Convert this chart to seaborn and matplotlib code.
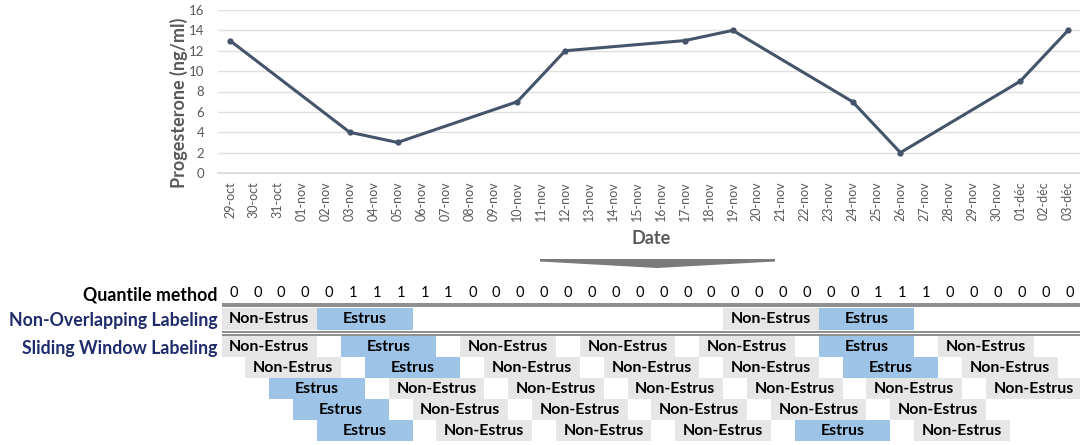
import numpy as np
import pandas as pd
import matplotlib
matplotlib.use("Agg")
import matplotlib.pyplot as plt
import seaborn as sns
from matplotlib.patches import Polygon

# Dates on the x axis
dates = ["29-oct", "30-oct", "31-oct", "01-nov", "02-nov", "03-nov", "04-nov", "05-nov",
         "06-nov", "07-nov", "08-nov", "09-nov", "10-nov", "11-nov", "12-nov", "13-nov",
         "14-nov", "15-nov", "16-nov", "17-nov", "18-nov", "19-nov", "20-nov", "21-nov",
         "22-nov", "23-nov", "24-nov", "25-nov", "26-nov", "27-nov", "28-nov", "29-nov",
         "30-nov", "01-déc", "02-déc", "03-déc"]

# Progesterone measurements
measured_dates = ["29-oct", "03-nov", "05-nov", "10-nov", "12-nov", "17-nov",
                  "19-nov", "24-nov", "26-nov", "01-déc", "03-déc"]
progesterone = [13, 4, 3, 7, 12, 13, 14, 7, 2, 9, 14]

# Quantile method labels (one per date)
quantile = [0, 0, 0, 0, 0, 1, 1, 1, 1, 1,
            0, 0, 0, 0, 0, 0, 0, 0, 0, 0,
            0, 0, 0, 0, 0, 0, 0, 1, 1, 1,
            0, 0, 0, 0, 0, 0]

window = 4

# Non-overlapping windows
non_overlap_start = [0, 4, 21, 25]
non_overlap_label = ["Non-Estrus", "Estrus", "Non-Estrus", "Estrus"]

# Sliding windows (row, start, label)
sliding_row = [0] * 7 + [1] * 7 + [2] * 7 + [3] * 6 + [4] * 6
sliding_start = [0, 5, 10, 15, 20, 25, 30,
                 1, 6, 11, 16, 21, 26, 31,
                 2, 7, 12, 17, 22, 27, 32,
                 3, 8, 13, 18, 23, 28,
                 4, 9, 14, 19, 24, 29]
sliding_label = ["Non-Estrus", "Estrus", "Non-Estrus", "Non-Estrus", "Non-Estrus", "Estrus", "Non-Estrus",
                 "Non-Estrus", "Estrus", "Non-Estrus", "Non-Estrus", "Non-Estrus", "Estrus", "Non-Estrus",
                 "Estrus", "Non-Estrus", "Non-Estrus", "Non-Estrus", "Non-Estrus", "Non-Estrus", "Non-Estrus",
                 "Estrus", "Non-Estrus", "Non-Estrus", "Non-Estrus", "Non-Estrus", "Non-Estrus",
                 "Estrus", "Non-Estrus", "Non-Estrus", "Non-Estrus", "Estrus", "Non-Estrus"]

colors = {"Estrus": "#9dc3e6", "Non-Estrus": "#e7e6e6"}
navy = "#1f2c6b"
grey_txt = "#595959"

sns.set_theme(style="white")
plt.rcParams["font.family"] = ["Lato", "DejaVu Sans"]

W, H = 1080, 445
fig = plt.figure(figsize=(W / 100, H / 100), dpi=100)

# ---- top: progesterone line chart ----
ax = fig.add_axes([218 / W, 1 - 173 / H, 862 / W, 163 / H])
df = pd.DataFrame({"date": measured_dates, "value": progesterone})
df["pos"] = [dates.index(d) for d in df["date"]]
sns.lineplot(data=df, x="pos", y="value", ax=ax, color="#44546a", lw=2.2,
             marker="o", markersize=4.5, markeredgecolor="#44546a", markeredgewidth=0)
ax.set_xlim(-0.5, 35.42)
ax.set_ylim(0, 16)
ax.set_yticks(range(0, 17, 2))
ax.set_xticks(np.arange(len(dates)))
ax.set_xticklabels(dates, rotation=90)
ax.set_xticks(np.arange(-0.5, len(dates), 1), minor=True)
ax.tick_params(axis="x", which="major", length=0, pad=6, labelsize=9, labelcolor=grey_txt)
ax.tick_params(axis="x", which="minor", length=6, width=1, color="#d9d9d9")
ax.tick_params(axis="y", length=0, pad=10, labelsize=9.5, labelcolor=grey_txt)
ax.grid(axis="y", color="#e0e0e0", lw=1)
for s in ["top", "right", "left"]:
    ax.spines[s].set_visible(False)
ax.spines["bottom"].set_color("#d9d9d9")
ax.set_ylabel("Progesterone (ng/ml)", fontsize=13, fontweight="bold", color=grey_txt)
ax.yaxis.set_label_coords(-0.045, 0.43)
ax.yaxis.label.set_va("center")
ax.set_xlabel("Date", fontsize=13, fontweight="bold", color=grey_txt)
ax.xaxis.set_label_coords(0.503, -0.40)
ax.xaxis.label.set_va("center")

# chevron arrow
pts = [(540, 259), (775, 259), (775, 261.5), (657, 268), (540, 261.5)]
fig.patches.append(Polygon([(x / W, 1 - y / H) for x, y in pts], closed=True,
                           transform=fig.transFigure, color="#7a7a7a", lw=0))

# ---- bottom: labeling table ----
tx = fig.add_axes([221.5 / W, 0, 858.5 / W, 165 / H])
tx.set_xlim(-0.5, 35.44)
tx.set_ylim(4.67, -3.19)
for s in tx.spines.values():
    s.set_visible(False)
tx.set_xticks([])
q_y, no_y = -2.57, -1.33
tx.set_yticks([q_y, no_y, 0])
tx.set_yticklabels(["Quantile method", "Non-Overlapping Labeling", "Sliding Window Labeling"])
tx.tick_params(axis="y", length=0, pad=3, labelsize=12.8)
for lab, c in zip(tx.get_yticklabels(), ["black", navy, navy]):
    lab.set_color(c)
    lab.set_fontweight("bold")

for k, q in enumerate(quantile):
    tx.text(k, q_y, str(q), ha="center", va="center", fontsize=10.5, color="black")

tx.hlines([-2.07, -1.95, -0.71, -0.57], -0.5, 35.5, color="#6d6d6d", lw=1.1)

for st, lab in zip(non_overlap_start, non_overlap_label):
    tx.barh(no_y, window, left=st - 0.5, height=1.03, color=colors[lab], lw=0)
    tx.text(st + (window - 1) / 2, no_y, lab, ha="center", va="center",
            fontsize=11.5, fontweight="bold", color="black")

for r, st, lab in zip(sliding_row, sliding_start, sliding_label):
    tx.barh(r, window, left=st - 0.5, height=1.0, color=colors[lab], lw=0)
    tx.text(st + (window - 1) / 2, r, lab, ha="center", va="center",
            fontsize=11.5, fontweight="bold", color="black")

fig.savefig("out.png", dpi=100)
